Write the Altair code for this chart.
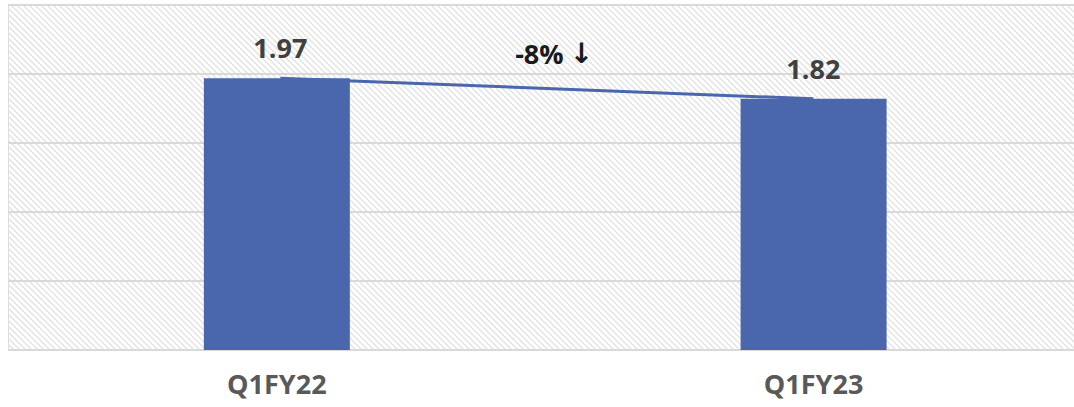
import altair as alt
import pandas as pd

# Quarter-over-quarter values
quarters = ["Q1FY22", "Q1FY23"]
values = [1.97, 1.82]
value_labels = ["1.97", "1.82"]
change_text = "-8%"
change_arrow = "↓"

# Horizontal reference lines on the value axis
grid_values = [0.0, 0.5, 1.0, 1.5, 2.0, 2.5]

W, H = 1066, 345
BLUE = "#4A66AC"
FONT = "Open Sans"

df = pd.DataFrame({"quarter": quarters, "value": values, "label": value_labels})
grid_df = pd.DataFrame({"g": grid_values})
change_df = pd.DataFrame({
    "quarter": [quarters[0]],
    "value": [sum(values) / len(values)],
    "text": [change_text],
    "arrow": [change_arrow],
})

x_scale = alt.Scale(domain=quarters, paddingInner=0.728, paddingOuter=0.357, align=0.511)
y_scale = alt.Scale(domain=[0, 2.5], nice=False, zero=True)

x_axis = alt.X(
    "quarter:N", scale=x_scale, sort=quarters, title=None,
    axis=alt.Axis(orient="bottom", labelAngle=0, labelFont=FONT, labelFontSize=27,
                  labelFontWeight="bold", labelColor="#595959", labelPadding=22,
                  ticks=False, domain=False, grid=False),
)
x_plain = alt.X("quarter:N", scale=x_scale, sort=quarters, axis=None)
y_enc = alt.Y("value:Q", scale=y_scale, axis=None)

# Diagonal hatch texture filling the plot background
hatch = (
    alt.Chart(alt.sequence(0, (W + H) // 6 + 2, 1, as_="k"))
    .transform_calculate(hx="datum.k * 6 - 345", hx2="datum.k * 6")
    .mark_rule(color="#e2e2e2", strokeWidth=1.3, clip=True)
    .encode(
        x=alt.X("hx:Q", scale=None, axis=None),
        x2="hx2:Q",
        y=alt.value(0),
        y2=alt.value(H),
    )
)

grid = (
    alt.Chart(grid_df)
    .mark_rule(color="#d9d9d9", strokeWidth=2)
    .encode(y=alt.Y("g:Q", scale=y_scale, axis=None))
)

bars = alt.Chart(df).mark_bar(color=BLUE).encode(x=x_axis, y=y_enc)

trend = alt.Chart(df).mark_line(color=BLUE, strokeWidth=3).encode(x=x_plain, y=y_enc)

labels = (
    alt.Chart(df)
    .mark_text(font=FONT, fontSize=27, fontWeight="bold", color="#404040",
               baseline="alphabetic", dy=-20)
    .encode(x=x_plain, y=y_enc, text="label:N")
)

change = (
    alt.Chart(change_df)
    .mark_text(font=FONT, fontSize=27, fontWeight="bold", color="#1a1a1a",
               baseline="alphabetic", align="center", dx=259, dy=-24)
    .encode(x=x_plain, y=y_enc, text="text:N")
)

arrow = (
    alt.Chart(change_df)
    .mark_text(font="DejaVu Sans", fontSize=28, fontWeight="bold", color="#1a1a1a",
               baseline="alphabetic", align="center", dx=301, dy=-25)
    .encode(x=x_plain, y=y_enc, text="arrow:N")
)

chart = (
    alt.layer(hatch, grid, bars, trend, labels, change, arrow)
    .resolve_scale(x="independent")
    .properties(
        width=W, height=H,
        autosize=alt.AutoSizeParams(type="none"),
        padding={"left": 8, "top": 5, "right": 0, "bottom": 57},
    )
    .configure_view(stroke=None)
    .configure(background="white")
)

chart.save("out.html", embed_options={"renderer": "svg", "actions": False})
